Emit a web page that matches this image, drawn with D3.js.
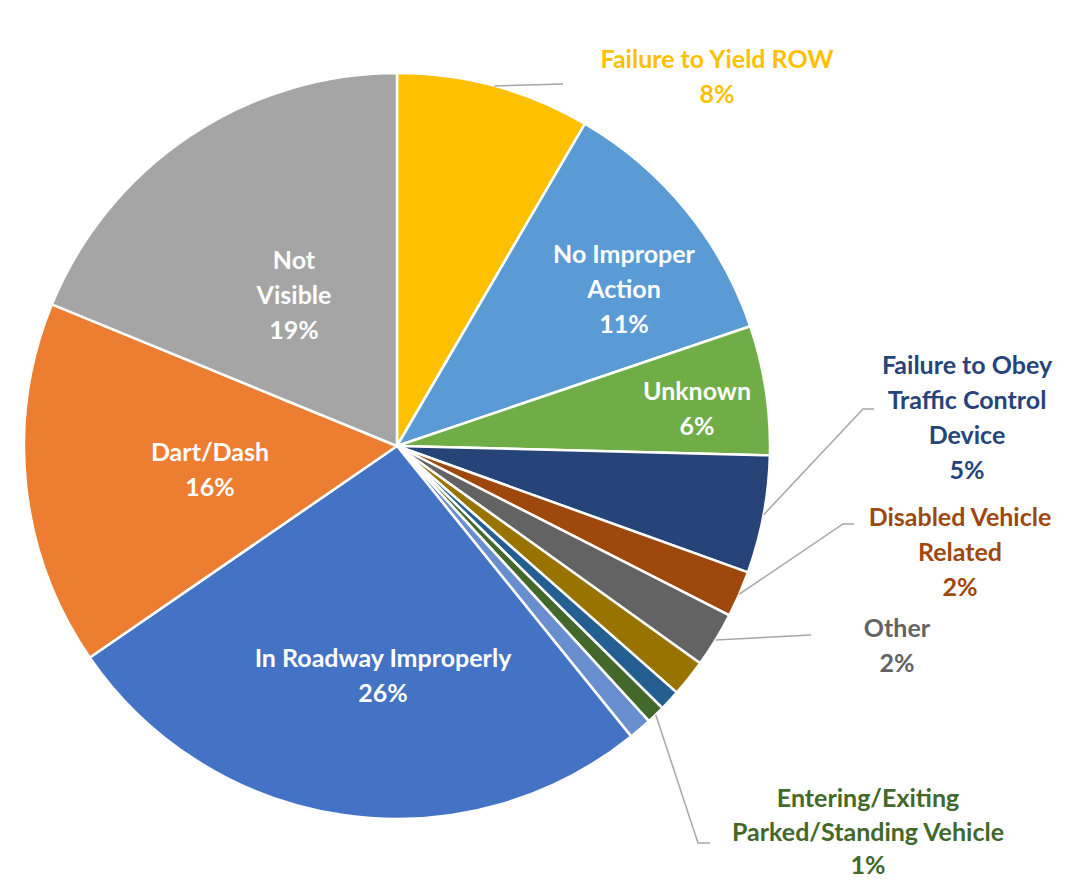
<!DOCTYPE html>
<html>
<head>
<meta charset="utf-8">
<script src="https://cdn.jsdelivr.net/npm/d3@7"></script>
<style>
  html, body { margin: 0; padding: 0; background: #fff; }
  svg text { font-family: Lato, "Open Sans", sans-serif; font-weight: 700; }
</style>
</head>
<body>
<svg id="chart" width="1089" height="880"></svg>
<script>
// ---- data ----
const categories = [
  "Failure to Yield ROW",
  "No Improper Action",
  "Unknown",
  "Failure to Obey Traffic Control Device",
  "Disabled Vehicle Related",
  "Other",
  "(unlabelled A)",
  "(unlabelled B)",
  "Entering/Exiting Parked/Standing Vehicle",
  "(unlabelled C)",
  "In Roadway Improperly",
  "Dart/Dash",
  "Not Visible"
];
const values = [8.4, 11.4, 5.6, 5.1, 2.0, 2.4, 1.6, 0.9, 0.8, 1.0, 26.2, 15.8, 18.8];
const labelLines = [
  ["Failure to Yield ROW"],
  ["No Improper", "Action"],
  ["Unknown"],
  ["Failure to Obey", "Traffic Control", "Device"],
  ["Disabled Vehicle", "Related"],
  ["Other"],
  null,
  null,
  ["Entering/Exiting", "Parked/Standing Vehicle"],
  null,
  ["In Roadway Improperly"],
  ["Dart/Dash"],
  ["Not", "Visible"]
];
const colors = ["#FFC000", "#5B9BD5", "#70AD47", "#264478", "#9E480E", "#636363",
                "#997300", "#255E91", "#43682B", "#698ED0", "#4472C4", "#ED7D31", "#A5A5A5"];

// ---- layout (label placement) ----
const cx = 397, cy = 446, R = 373, lineH = 35;
const labelLayout = {
  0:  { x: 717, y: 58,  color: "#FFC000", leader: [[563, 84]] },
  1:  { x: 624, y: 253, color: "#fff" },
  2:  { x: 697, y: 390, color: "#fff" },
  3:  { x: 967, y: 364, color: "#264478", leader: [[863, 409], [874, 409]] },
  4:  { x: 960, y: 516, color: "#9E480E", leader: [[843, 524], [854, 524]] },
  5:  { x: 897, y: 627, color: "#636363", leader: [[811, 635]] },
  8:  { x: 868, y: 797, color: "#43682B", leader: [[698, 843], [710, 843]], lh: 33.5 },
  10: { x: 383, y: 657, color: "#fff" },
  11: { x: 210, y: 451, color: "#fff" },
  12: { x: 294, y: 259, color: "#fff" }
};

const svg = d3.select("#chart");
const g = svg.append("g").attr("transform", `translate(${cx},${cy})`);

const pie = d3.pie().sort(null).value(d => d)(values);
const arc = d3.arc().innerRadius(0).outerRadius(R);
const color = d3.scaleOrdinal().domain(d3.range(values.length)).range(colors);

g.selectAll("path.slice")
  .data(pie)
  .join("path")
  .attr("class", "slice")
  .attr("d", arc)
  .attr("fill", (d, i) => color(i))
  .attr("stroke", "#fff")
  .attr("stroke-width", 2.5)
  .attr("stroke-linejoin", "round");

// leader lines
pie.forEach((d, i) => {
  const L = labelLayout[i];
  if (!L || !L.leader) return;
  const a = (d.startAngle + d.endAngle) / 2;
  const start = [cx + R * Math.sin(a), cy - R * Math.cos(a)];
  const pts = [start].concat(L.leader);
  svg.append("path")
    .attr("d", d3.line()(pts))
    .attr("fill", "none")
    .attr("stroke", "#A6A6A6")
    .attr("stroke-width", 1.5);
});

// labels
pie.forEach((d, i) => {
  const L = labelLayout[i];
  if (!L || !labelLines[i]) return;
  const lines = labelLines[i].concat([Math.round(values[i]) + "%"]);
  const lh = L.lh || lineH;
  const t = svg.append("text")
    .attr("text-anchor", "middle")
    .attr("fill", L.color)
    .attr("font-size", 25);
  lines.forEach((s, k) => {
    t.append("tspan")
      .attr("x", L.x)
      .attr("y", L.y + k * lh)
      .attr("dominant-baseline", "central")
      .text(s);
  });
});
</script>
</body>
</html>
